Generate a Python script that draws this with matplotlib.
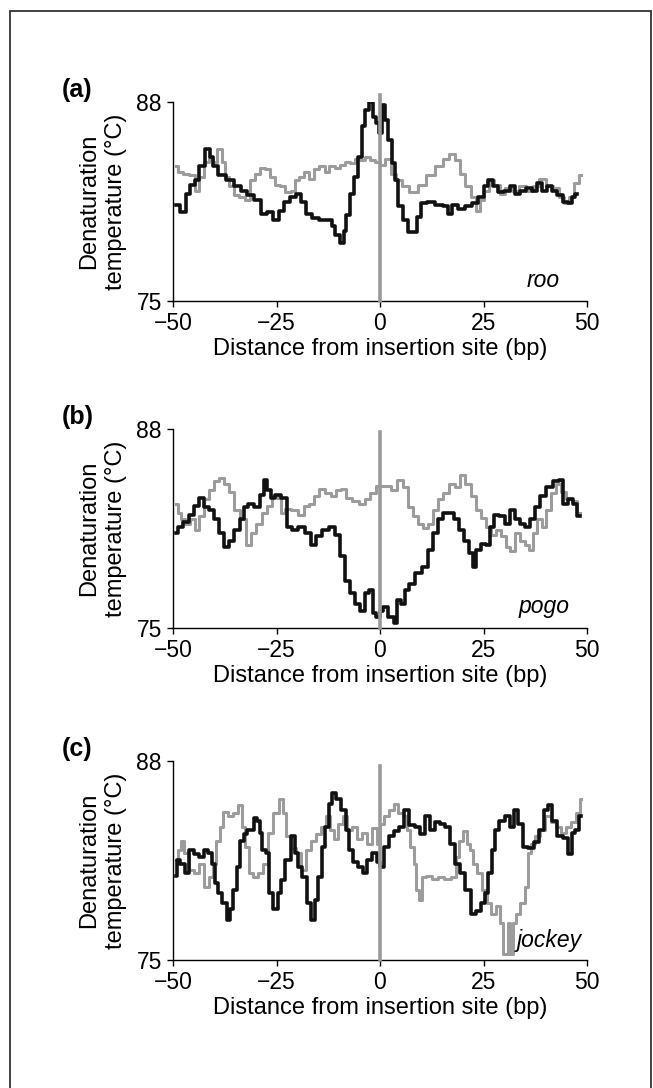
import matplotlib
matplotlib.use("Agg")
import matplotlib.pyplot as plt
from matplotlib.patches import Rectangle

plt.rcParams["font.family"] = ["Liberation Sans", "DejaVu Sans"]

# values: (distance bp, denaturation temperature °C)
roo_black = [(-49.3, 81.3), (-47.3, 80.8), (-46.5, 82.0), (-45.2, 82.6), (-44.4, 82.9), (-43.2, 83.8),
             (-41.5, 84.9), (-40.7, 84.4), (-39.9, 83.8), (-38.3, 83.2), (-36.2, 82.9), (-34.2, 82.5),
             (-32.9, 82.2), (-31.3, 81.9), (-29.6, 81.6), (-28.0, 80.7), (-26.4, 80.8), (-25.1, 80.3),
             (-23.9, 80.9), (-22.7, 81.5), (-21.0, 81.8), (-19.4, 82.0), (-18.6, 81.5), (-17.3, 80.7),
             (-15.7, 80.4), (-14.0, 80.3), (-12.0, 80.3), (-11.2, 79.9), (-10.3, 79.3), (-9.1, 78.8),
             (-8.3, 79.6), (-7.9, 80.6), (-6.7, 82.0), (-5.8, 83.1), (-4.6, 84.4), (-4.2, 86.4),
             (-3.2, 87.5), (-2.1, 88.0), (-1.3, 87.0), (-0.5, 86.6), (0.1, 86.0), (0.7, 87.8),
             (1.6, 86.8), (2.4, 85.5), (3.2, 84.0), (4.0, 82.9), (4.8, 81.2), (6.1, 80.3),
             (7.3, 79.5), (8.5, 79.5), (9.4, 80.5), (10.6, 81.4), (12.2, 81.5), (14.3, 81.3),
             (15.9, 81.2), (16.8, 80.7), (18.0, 81.3), (19.6, 81.0), (21.7, 81.2), (22.9, 81.4),
             (24.6, 81.8), (25.8, 82.5), (26.6, 82.9), (27.8, 82.5), (29.1, 82.1), (30.7, 82.2),
             (31.9, 82.5), (33.2, 82.0), (34.4, 82.2), (36.1, 82.4), (37.3, 82.2), (38.5, 82.7),
             (39.8, 82.2), (41.0, 82.5), (42.2, 82.2), (43.5, 81.9), (44.7, 81.5), (45.9, 81.4),
             (46.8, 81.8), (47.6, 82.0)]
roo_gray = [(-49.3, 83.8), (-48.1, 83.4), (-46.9, 83.3), (-45.2, 83.2), (-44.0, 82.2), (-43.2, 83.1),
            (-42.0, 84.1), (-40.7, 84.4), (-39.9, 84.1), (-38.7, 84.9), (-37.8, 84.1), (-37.0, 83.1),
            (-35.8, 82.5), (-34.6, 81.9), (-33.3, 81.8), (-32.1, 81.6), (-30.9, 82.9), (-29.6, 83.3),
            (-28.4, 83.7), (-27.2, 83.6), (-25.9, 83.1), (-24.7, 82.6), (-23.5, 82.5), (-22.2, 82.1),
            (-21.0, 82.2), (-20.2, 82.9), (-19.0, 83.1), (-17.7, 83.4), (-16.5, 83.0), (-15.3, 83.6),
            (-14.0, 83.8), (-12.8, 83.4), (-11.6, 83.8), (-10.3, 83.7), (-9.1, 83.9), (-7.9, 84.1),
            (-6.7, 84.0), (-5.4, 84.3), (-4.2, 84.2), (-3.0, 84.4), (-1.7, 84.2), (-0.5, 84.1),
            (0.3, 83.9), (1.9, 84.3), (3.2, 83.3), (4.4, 82.9), (6.1, 82.5), (8.1, 82.1),
            (10.2, 82.6), (12.2, 83.2), (14.3, 83.8), (15.9, 84.3), (17.6, 84.6), (18.8, 84.2),
            (20.0, 83.3), (21.3, 82.5), (22.5, 81.8), (23.7, 80.9), (24.6, 81.6), (25.8, 82.2),
            (27.0, 82.9), (28.3, 82.6), (29.5, 82.0), (31.1, 82.4), (32.8, 82.2), (34.4, 82.5),
            (36.1, 82.2), (37.7, 82.5), (39.3, 83.0), (41.0, 82.5), (42.6, 82.4), (43.8, 81.8),
            (45.1, 81.4), (46.3, 81.8), (47.6, 82.7), (48.6, 83.2)]

pogo_black = [(-49.3, 81.2), (-48.1, 81.6), (-46.9, 81.9), (-45.6, 82.4), (-44.4, 83.0), (-43.2, 83.5),
              (-41.9, 82.9), (-40.7, 82.7), (-39.5, 82.1), (-38.2, 81.2), (-37.0, 80.3), (-35.8, 80.7),
              (-34.5, 81.4), (-33.3, 82.1), (-32.5, 82.9), (-31.3, 83.1), (-29.6, 82.9), (-28.4, 83.7),
              (-27.6, 84.7), (-26.8, 84.0), (-26.0, 83.5), (-24.7, 83.7), (-23.1, 83.5), (-21.8, 81.6),
              (-20.6, 81.4), (-19.0, 81.6), (-17.3, 81.2), (-16.1, 80.4), (-14.9, 81.0), (-13.2, 81.4),
              (-11.6, 81.6), (-10.3, 81.1), (-9.1, 79.7), (-7.9, 78.1), (-6.7, 77.3), (-5.4, 76.6),
              (-4.2, 76.1), (-3.0, 77.3), (-2.1, 77.5), (-1.3, 76.0), (-0.5, 75.7), (0.4, 76.1),
              (1.2, 76.4), (2.8, 75.7), (4.0, 75.3), (4.4, 76.8), (5.7, 76.6), (6.5, 77.5),
              (7.7, 77.9), (9.4, 78.6), (11.0, 79.0), (12.2, 80.1), (13.5, 81.2), (14.7, 82.1),
              (15.9, 82.5), (17.2, 82.5), (18.4, 82.1), (19.6, 81.4), (20.8, 80.7), (22.1, 79.9),
              (22.9, 79.0), (23.7, 80.1), (24.9, 80.5), (26.2, 80.4), (27.0, 81.6), (28.2, 82.4),
              (29.5, 82.3), (30.7, 81.8), (31.9, 82.7), (33.2, 82.1), (34.4, 81.8), (35.6, 81.6),
              (36.9, 82.1), (38.1, 82.9), (39.3, 83.6), (41.0, 84.2), (42.6, 84.6), (43.8, 84.7),
              (44.7, 83.1), (45.9, 83.4), (47.1, 83.1), (48.3, 82.3)]
pogo_gray = [(-49.3, 83.1), (-48.5, 82.5), (-47.7, 82.1), (-46.5, 81.8), (-45.2, 82.1), (-44.0, 81.4),
             (-43.2, 82.3), (-41.9, 83.4), (-40.7, 84.0), (-39.5, 84.6), (-38.3, 84.8), (-37.0, 84.4),
             (-35.8, 83.9), (-34.5, 82.7), (-32.9, 82.1), (-31.7, 80.4), (-30.5, 81.2), (-29.2, 81.8),
             (-28.0, 82.5), (-26.8, 83.0), (-25.5, 83.6), (-24.3, 83.5), (-23.5, 82.5), (-22.2, 82.8),
             (-20.6, 82.7), (-19.0, 82.4), (-17.7, 83.0), (-16.5, 83.1), (-15.3, 83.6), (-14.0, 84.1),
             (-12.4, 83.8), (-11.2, 83.6), (-9.9, 84.0), (-8.7, 84.1), (-7.5, 83.5), (-5.8, 83.3),
             (-4.2, 83.1), (-3.0, 83.4), (-1.7, 83.8), (-0.1, 84.3), (1.9, 84.3), (3.2, 84.0),
             (4.8, 84.7), (6.1, 84.2), (7.3, 82.9), (8.5, 82.3), (9.8, 81.8), (11.0, 81.5),
             (12.2, 81.8), (13.5, 82.7), (14.7, 83.4), (15.9, 83.8), (17.6, 84.4), (18.8, 84.2),
             (20.0, 85.0), (21.3, 84.4), (22.5, 83.6), (23.7, 82.7), (24.9, 82.2), (26.2, 81.6),
             (27.4, 81.1), (28.6, 81.4), (29.9, 81.0), (31.1, 80.3), (31.9, 80.0), (33.2, 81.2),
             (34.4, 80.7), (35.6, 80.4), (36.5, 80.1), (37.3, 81.2), (38.5, 82.1), (39.8, 81.6),
             (40.6, 82.7), (41.8, 83.8), (43.1, 84.4), (44.3, 83.9), (45.5, 83.4), (47.1, 83.3),
             (48.3, 82.5)]

jockey_black = [(-49.3, 80.5), (-48.9, 81.5), (-47.7, 81.3), (-46.5, 80.7), (-45.6, 82.2), (-44.4, 81.9),
                (-43.2, 81.7), (-41.9, 82.2), (-41.1, 82.0), (-40.3, 81.3), (-39.5, 80.0), (-38.7, 79.4),
                (-37.4, 78.7), (-36.6, 77.6), (-35.8, 78.3), (-35.0, 79.6), (-34.2, 81.1), (-33.3, 82.8),
                (-32.5, 83.2), (-31.7, 83.5), (-30.9, 83.5), (-30.1, 84.3), (-29.2, 84.1), (-28.8, 83.3),
                (-28.0, 82.2), (-27.2, 82.0), (-26.4, 79.4), (-25.1, 78.3), (-24.3, 79.4), (-23.5, 80.2),
                (-22.2, 81.5), (-21.0, 83.1), (-20.2, 82.0), (-19.4, 81.1), (-18.1, 80.4), (-17.3, 78.7),
                (-16.1, 77.6), (-15.3, 78.9), (-14.5, 80.4), (-13.6, 82.4), (-12.8, 83.7), (-12.0, 85.2),
                (-11.2, 85.9), (-10.0, 85.5), (-8.7, 84.8), (-7.9, 83.5), (-7.1, 82.2), (-5.8, 81.4),
                (-4.6, 81.1), (-3.8, 80.7), (-2.6, 81.5), (-1.3, 82.0), (-0.1, 81.4), (0.3, 81.1),
                (1.6, 82.4), (2.8, 83.1), (4.0, 83.4), (5.3, 83.7), (6.5, 84.8), (7.7, 83.8),
                (9.0, 83.7), (10.2, 83.2), (11.4, 84.4), (12.6, 83.5), (13.9, 84.0), (15.1, 83.9),
                (16.4, 83.7), (17.6, 82.6), (18.8, 81.3), (20.0, 80.7), (21.3, 79.6), (22.5, 78.0),
                (23.7, 78.2), (24.9, 78.7), (25.8, 79.4), (26.6, 80.7), (27.4, 82.2), (28.2, 83.5),
                (29.5, 84.1), (30.7, 84.4), (31.9, 83.7), (32.8, 84.8), (34.0, 83.9), (35.2, 82.4),
                (36.5, 82.3), (37.7, 82.7), (38.9, 83.5), (40.2, 84.8), (41.0, 85.1), (42.2, 84.1),
                (43.5, 83.1), (44.7, 83.0), (45.9, 81.9), (46.8, 83.3), (47.6, 83.5), (48.6, 84.4)]
jockey_gray = [(-49.3, 81.5), (-48.5, 82.2), (-47.7, 82.8), (-46.9, 82.0), (-45.6, 80.9), (-44.4, 80.7),
               (-43.2, 81.3), (-41.9, 79.8), (-40.7, 80.4), (-39.9, 81.3), (-39.1, 82.8), (-38.3, 83.7),
               (-37.4, 84.7), (-36.2, 84.4), (-35.0, 84.6), (-33.8, 85.1), (-32.9, 83.7), (-32.1, 82.4),
               (-31.3, 80.7), (-30.1, 80.4), (-28.8, 80.7), (-27.6, 81.3), (-26.4, 83.3), (-25.1, 84.6),
               (-23.9, 85.5), (-23.1, 84.6), (-22.2, 83.1), (-21.0, 82.3), (-19.8, 82.0), (-18.6, 80.9),
               (-17.3, 82.2), (-16.1, 82.8), (-14.9, 83.2), (-13.6, 83.7), (-12.4, 84.4), (-11.6, 83.5),
               (-10.8, 82.9), (-9.5, 83.9), (-8.3, 84.4), (-7.5, 83.5), (-6.2, 83.7), (-5.0, 82.9),
               (-3.8, 83.3), (-2.6, 82.6), (-1.3, 83.6), (-0.1, 82.6), (0.3, 83.9), (1.6, 84.4),
               (2.8, 84.8), (3.9, 85.2), (4.8, 84.6), (6.1, 84.4), (6.9, 83.5), (7.7, 82.4),
               (8.5, 81.3), (9.0, 79.6), (9.8, 78.9), (10.6, 80.4), (11.8, 80.5), (13.1, 80.3),
               (14.7, 80.4), (16.4, 80.3), (18.0, 80.4), (18.8, 81.7), (19.6, 82.8), (20.5, 83.4),
               (21.3, 82.6), (22.1, 82.2), (22.9, 81.3), (24.1, 80.7), (25.4, 79.6), (26.2, 78.7),
               (27.4, 78.0), (28.6, 78.5), (29.5, 77.4), (29.9, 75.4), (30.7, 75.4), (31.1, 77.4),
               (31.9, 75.4), (32.4, 77.4), (33.2, 78.0), (34.4, 78.7), (35.6, 79.8), (36.1, 82.0),
               (36.9, 82.6), (38.1, 83.1), (39.3, 83.5), (40.6, 84.4), (41.8, 84.0), (43.1, 83.7),
               (44.3, 83.3), (45.5, 83.7), (46.8, 84.0), (48.0, 84.6), (48.6, 85.5)]

panel_letters = ["(a)", "(b)", "(c)"]
element_names = ["roo", "pogo", "jockey"]
black_series = [roo_black, pogo_black, jockey_black]
gray_series = [roo_gray, pogo_gray, jockey_gray]
marker_line_top = [88.45, 87.8, 87.7]
x_ticks = [-50, -25, 0, 25, 50]
y_ticks = [75, 88]

W, H = 653, 1088
fig = plt.figure(figsize=(W / 100, H / 100), dpi=100)

# outer frame (cut off at the bottom in the reference)
fig.add_artist(Rectangle((10 / W, -0.01), (651 - 10) / W, (H - 11) / H + 0.01,
                         transform=fig.transFigure, fill=False, ec="#333333", lw=1.3))

ax_left, ax_w, ax_h = 173 / W, 414 / W, 199 / H
ax_tops = [102, 429, 761]
name_pos = [(0.935, 0.07), (0.959, 0.075), (0.988, 0.065)]

for i in range(3):
    top = ax_tops[i]
    ax = fig.add_axes([ax_left, 1 - (top + 199) / H, ax_w, ax_h])

    gx, gy = zip(*gray_series[i])
    bx, by = zip(*black_series[i])
    ax.plot(gx, gy, color="#9c9c9c", lw=2.2, zorder=2, drawstyle="steps-mid")
    ax.plot(bx, by, color="#111111", lw=2.6, zorder=3, drawstyle="steps-mid")
    ax.plot([0, 0], [75, marker_line_top[i]], color="#999999", lw=2.6, zorder=4, clip_on=False)

    ax.set_xlim(-50, 50)
    ax.set_ylim(75, 88)
    ax.set_xticks(x_ticks)
    ax.set_yticks(y_ticks)
    for side in ["top", "right"]:
        ax.spines[side].set_visible(False)
    for side in ["left", "bottom"]:
        ax.spines[side].set_linewidth(1.0)
    ax.tick_params(direction="out", length=4.5, width=1.0, labelsize=16.5, pad=3.5)

    ax.set_xlabel("Distance from insertion site (bp)", fontsize=17, labelpad=2)
    ax.text(-0.171, 0.5, "Denaturation\ntemperature (°C)", rotation=90, ha="center", va="center",
            transform=ax.transAxes, fontsize=17, linespacing=1.3, multialignment="center")
    nx, ny = name_pos[i]
    ax.text(nx, ny, element_names[i], transform=ax.transAxes, ha="right", va="baseline",
            style="italic", fontsize=16.5, zorder=5)

    fig.text(62 / W, 1 - (top - 12) / H, panel_letters[i], ha="left", va="center",
             fontsize=18, weight="bold")

fig.savefig("out.png", dpi=100)
